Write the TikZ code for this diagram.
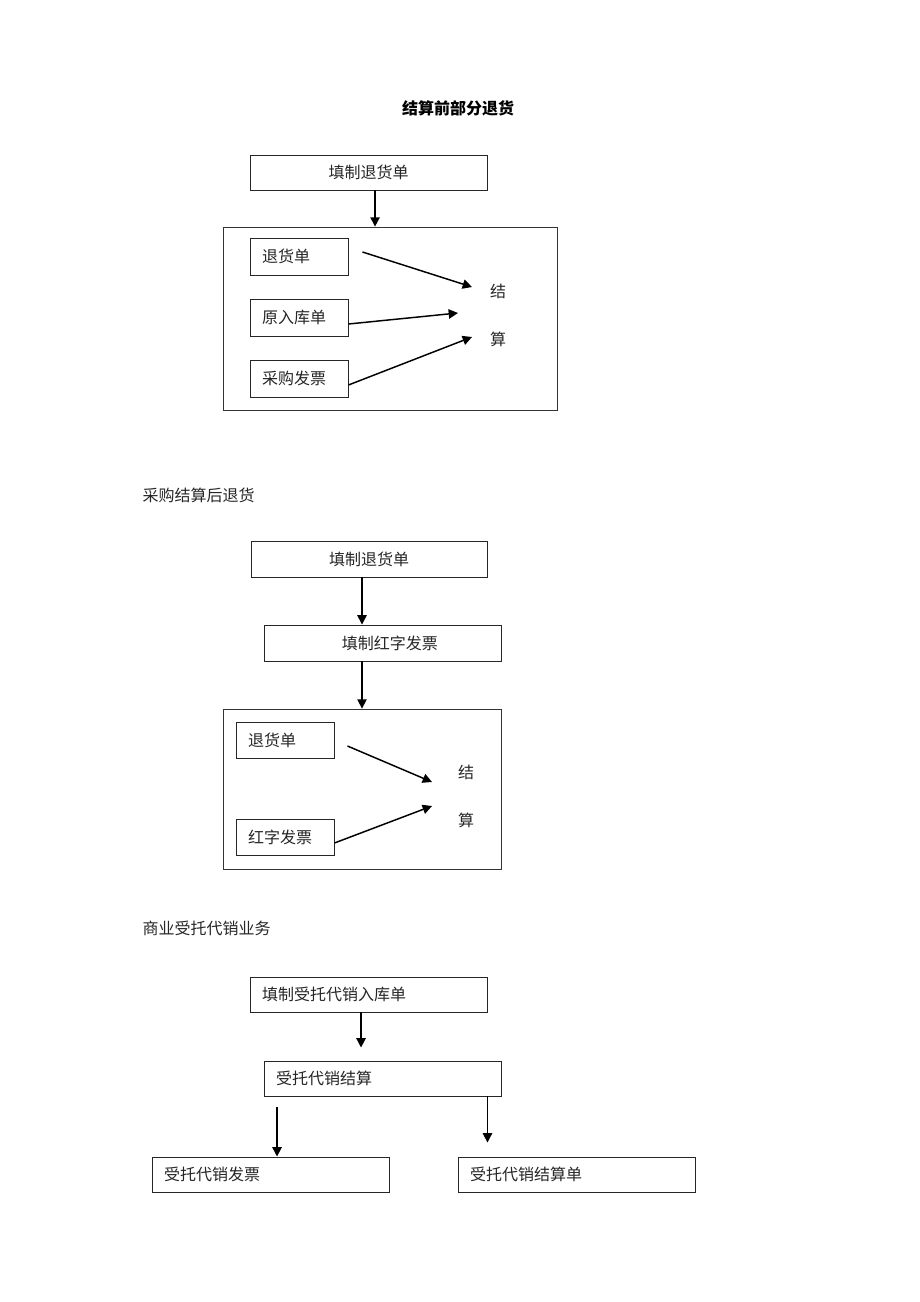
\documentclass[tikz,border=0pt]{standalone}
\usepackage{fontspec}
\setmainfont{Noto Sans CJK SC}
\usetikzlibrary{arrows.meta,shadows,calc}

\begin{document}
\begin{tikzpicture}[x=0.75pt,y=-0.75pt,
  every node/.style={font=\fontsize{12}{14}\selectfont, text=black!85},
  box/.style={draw=black!85, line width=0.7pt, fill=white, minimum height=26.25pt,
    drop shadow={shadow xshift=1pt, shadow yshift=-1pt, fill=black!85, opacity=1}},
  lbox/.style={box, align=left, inner xsep=9pt, text width=#1},
  outer/.style={draw=black!80, line width=0.6pt, inner sep=0pt},
  arr/.style={line width=1.1pt, -{Triangle[length=7pt,width=7pt]}}]
\useasboundingbox (0,0) rectangle (920,1302);

% 结算前部分退货
\node[font=\fontsize{12}{14}\selectfont\bfseries, text=black] (title1) at (458,108) {结算前部分退货};
\node[box, minimum width=177.75pt] (fill1) at (368.5,172.5) {填制退货单};
\node[outer, minimum width=250.5pt, minimum height=137.25pt] (frame1) at (390,318.5) {};
\node[lbox=55.5pt, minimum height=27.75pt] (ret1) at (299,256.5) {退货单};
\node[lbox=55.5pt, minimum height=27.75pt] (orig1) at (299,317.5) {原入库单};
\node[lbox=55.5pt, minimum height=27.75pt] (inv1) at (299,378.5) {采购发票};
\node (jie1) at (498,291) {结};
\node (suan1) at (498,339) {算};
\coordinate (in1a) at (472,287);
\coordinate (in1b) at (458,313);
\coordinate (in1c) at (472,337);
\coordinate (d1) at ([xshift=4.9pt]fill1.south);
\draw[arr] (d1) -- (d1 |- frame1.north);
\draw[arr] ([shift={(14,-4.5)}]ret1.east) -- (in1a);
\draw[arr] ([shift={(0,6.5)}]orig1.east) -- (in1b);
\draw[arr] ([shift={(0,6.5)}]inv1.east) -- (in1c);

% 采购结算后退货
\node[anchor=west] (title2) at (138,495) {采购结算后退货};
\node[box, minimum width=177pt, minimum height=27pt] (fill2) at (369,559) {填制退货单};
\node[box, minimum width=177.75pt, minimum height=27pt] (red2) at (382.5,643) {\hspace*{11pt}填制红字发票};
\node[outer, minimum width=208.5pt, minimum height=120pt] (frame2) at (362,789) {};
\node[lbox=55.5pt, minimum height=27pt] (ret2) at (285,740) {退货单};
\node[lbox=55.5pt, minimum height=27pt] (hz2) at (285,837) {红字发票};
\node (jie2) at (466,772) {结};
\node (suan2) at (466,820) {算};
\coordinate (in2a) at (432,782);
\coordinate (in2b) at (432,806);
\coordinate (d2) at ([xshift=-5.25pt]fill2.south);
\coordinate (d3) at (d2 |- red2.south);
\draw[arr] (d2) -- (d2 |- red2.north);
\draw[arr] (d3) -- (d3 |- frame2.north);
\draw[arr] ([shift={(13,6)}]ret2.east) -- (in2a);
\draw[arr] ([shift={(0,6)}]hz2.east) -- (in2b);

% 商业受托代销业务
\node[anchor=west] (title3) at (138,928) {商业受托代销业务};
\node[lbox=159.75pt] (ent3) at (368.5,994.5) {填制受托代销入库单};
\node[lbox=159.75pt] (set3) at (382.5,1078.5) {受托代销结算};
\node[lbox=159.75pt] (inv3) at (270.5,1174.5) {受托代销发票};
\node[lbox=159.75pt] (stm3) at (576.5,1174.5) {受托代销结算单};
\coordinate (d4) at ([xshift=-5.6pt]ent3.south);
\coordinate (d5) at ([xshift=4.9pt]inv3.north);
\coordinate (d6) at ([xshift=-10.5pt]set3.south east);
\draw[arr] (d4) -- ($(d4 |- set3.north)+(0,-13)$);
\draw[arr] ($(d5 |- set3.south)+(0,11)$) -- (d5);
\draw[arr] (d6) -- ($(d6 |- stm3.north)+(0,-14)$);
\end{tikzpicture}
\end{document}
